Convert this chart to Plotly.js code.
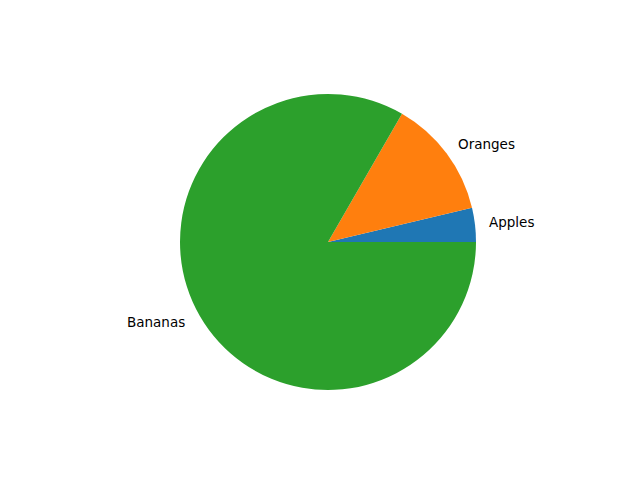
<!DOCTYPE html>
<html>
<head>
<meta charset="utf-8">
<script src="https://cdn.plot.ly/plotly-3.0.1.min.js"></script>
<style>html,body{margin:0;padding:0;background:#fff;}#chart{width:640px;height:480px;}</style>
</head>
<body>
<div id="chart"></div>
<script>
const labels = ["Apples", "Oranges", "Bananas"];
const values = [10, 35, 225];
const colors = ["#1f77b4", "#ff7f0e", "#2ca02c"];

const W = 640, H = 480;
const domX = [0.28125, 0.74375];
const domY = [0.1875, 0.8042];
const total = values.reduce((a, b) => a + b, 0);

// label placement like matplotlib: at 1.1 * radius, mid-angle of each slice
const cx = (domX[0] + domX[1]) / 2 * W;
const cy = (domY[0] + domY[1]) / 2 * H;
const r = (domX[1] - domX[0]) / 2 * W;
let acc = 0;
const annotations = labels.map((lab, i) => {
  const mid = (acc + values[i] / 2) / total * 2 * Math.PI;
  acc += values[i];
  const x = cx + 1.1 * r * Math.cos(mid);
  const y = cy + 1.1 * r * Math.sin(mid);
  const right = Math.cos(mid) >= 0;
  return {
    text: lab, xref: "paper", yref: "paper",
    x: x / W, y: y / H, showarrow: false,
    xanchor: right ? "left" : "right", yanchor: "middle",
    xshift: right ? -2 : -1, yshift: 1, borderpad: 0,
    font: {family: "DejaVu Sans", size: 13.5, color: "#000"}
  };
});

const trace = {
  type: "pie",
  labels: labels,
  values: values,
  sort: false,
  direction: "counterclockwise",
  rotation: 90 - 360 * values[0] / total,
  textinfo: "none",
  automargin: false,
  marker: {colors: colors, line: {width: 0}},
  domain: {x: domX, y: domY},
  hoverinfo: "none"
};

Plotly.newPlot("chart", [trace], {
  width: W, height: H,
  margin: {l: 0, r: 0, t: 0, b: 0},
  showlegend: false,
  paper_bgcolor: "#fff",
  annotations: annotations,
  font: {family: "DejaVu Sans", size: 13.5, color: "#000"}
}, {staticPlot: true, displayModeBar: false});
</script>
</body>
</html>
